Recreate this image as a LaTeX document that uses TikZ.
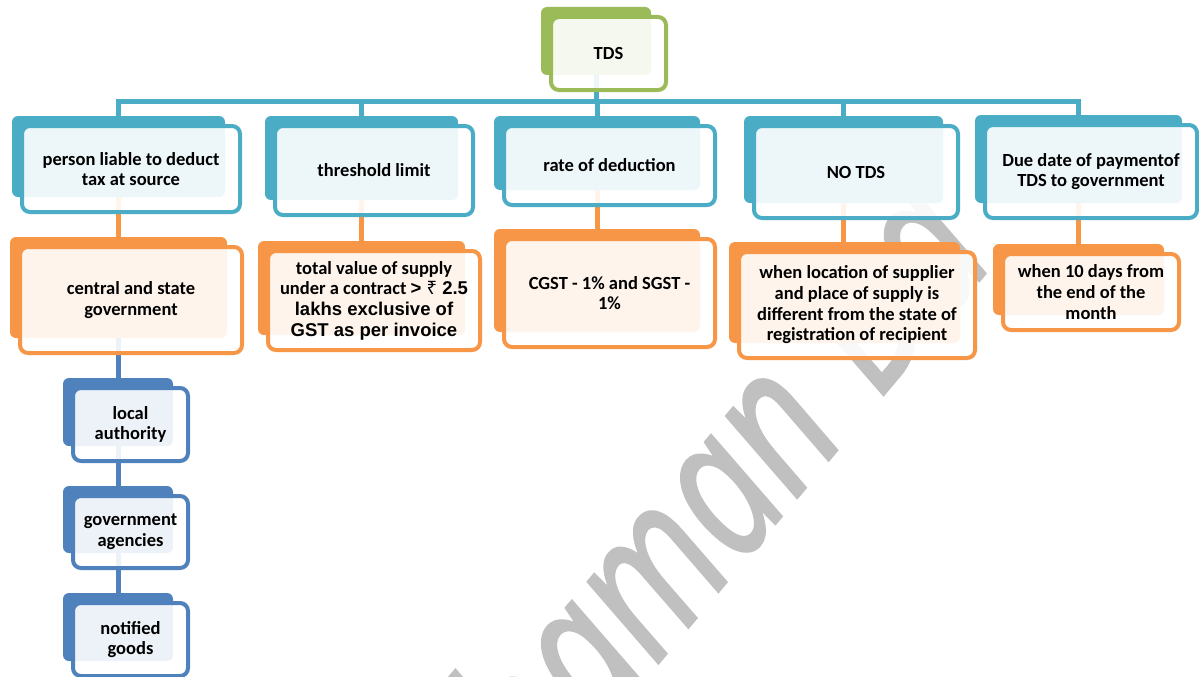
\documentclass[tikz,border=0pt]{standalone}
\usepackage{fontspec}
\setmainfont{Carlito}
\newfontfamily\arialfont{Liberation Sans}
\newfontfamily\rupeefont{Noto Sans}
\newfontfamily\wmfont{Noto Sans}[FakeStretch=0.75,FakeBold=0.8]
\usetikzlibrary{calc}

\definecolor{tealc}{HTML}{4BACC6}
\definecolor{orangec}{HTML}{F79646}
\definecolor{bluec}{HTML}{4F81BD}
\definecolor{greenc}{HTML}{9BBB59}
\definecolor{markc}{HTML}{C0C0C0}

\tikzset{
  backshape/.style={rounded corners=6pt, inner sep=0pt, outer sep=0pt, draw=none},
  frontstyle/.style={rounded corners=8pt, line width=4pt, fill=white, fill opacity=0.9,
    text opacity=1, inner sep=0pt, outer sep=0pt, align=center,
    font=\bfseries\fontsize{18.5}{20.7}\selectfont},
  link/.style={line width=5pt},
  markstyle/.style={text=markc, inner sep=0pt, font=\wmfont\itshape\fontsize{200}{200}\selectfont},
}

% filled tab behind a box: name, colour, top-left x,y, bottom-right x,y (pixels, y downwards)
\newcommand\backbox[6]{%
  \pgfmathsetmacro\bw{#5-#3}%
  \pgfmathsetmacro\bh{#6-#4}%
  \node[backshape, fill=#2, minimum width=\bw pt, minimum height=\bh pt,
        anchor=north west] (#1-bk) at (#3,#4) {};%
}
% outlined box in front of its tab: name, colour, text
\newcommand\putfront[3]{%
  \path let \p1=($(#1-bk.north east)-(#1-bk.south west)$) in
    node[frontstyle, draw=#2, minimum width={\x1+5pt}, minimum height={\y1+5pt}]
      (#1) at ($(#1-bk.center)+(12.5,12.5)$) {#3};%
}

\begin{document}
\begin{tikzpicture}[x=1pt,y=-1pt]
\useasboundingbox (0,0) rectangle (1199,677);
\fill[white] (0,0) rectangle (1199,677);

% watermark
\node[markstyle, rotate=50, anchor=base west] (mark) at (545,799) {haman\hspace{45pt}Da};

% tabs
\backbox{tds}{greenc}{541}{7}{651}{75}
\backbox{la}{tealc}{12}{116}{225}{197}
\backbox{lb}{tealc}{265}{116}{458}{200}
\backbox{lc}{tealc}{494}{116}{700}{190}
\backbox{ld}{tealc}{744}{116}{943}{203}
\backbox{le}{tealc}{975}{115}{1182}{203}
\backbox{ma}{orangec}{10}{237}{227}{338}
\backbox{mb}{orangec}{258}{241}{465}{335}
\backbox{mc}{orangec}{494}{229}{700}{332}
\backbox{md}{orangec}{729}{242}{960}{343}
\backbox{me}{orangec}{993}{244}{1164}{315}
\backbox{na}{bluec}{63}{378}{173}{446}
\backbox{nb}{bluec}{63}{486}{173}{553}
\backbox{nc}{bluec}{63}{593}{173}{661}

% connectors
\foreach \c in {la,lb,lc,ld,le}
  \draw[link, tealc] (tds-bk.south) -- ++(0,26) -| (\c-bk.north);
\foreach \u/\l in {la/ma,lb/mb,lc/mc,ld/md,le/me}
  \draw[link, orangec] (\u-bk.south) -- (\u-bk.south |- \l-bk.north);
\foreach \u/\l in {ma/na,na/nb,nb/nc}
  \draw[link, bluec] (\u-bk.south) -- (\u-bk.south |- \l-bk.north);

% boxes
\putfront{tds}{greenc}{TDS}
\putfront{la}{tealc}{person liable to deduct\\tax at source}
\putfront{lb}{tealc}{threshold limit}
\putfront{lc}{tealc}{rate of deduction}
\putfront{ld}{tealc}{NO TDS}
\putfront{le}{tealc}{Due date of paymentof\\TDS to government}
\putfront{ma}{orangec}{central and state\\government}
\putfront{mb}{orangec}{total value of supply\\under a contract {\arialfont> {\rupeefont ₹} 2.5}\\{\arialfont lakhs exclusive of}\\{\arialfont GST as per invoice}}
\putfront{mc}{orangec}{CGST - 1\% and SGST -\\1\%}
\putfront{md}{orangec}{when location of supplier\\and place of supply is\\different from the state of\\registration of recipient}
\putfront{me}{orangec}{when 10 days from\\the end of the\\month}
\putfront{na}{bluec}{local\\authority}
\putfront{nb}{bluec}{government\\agencies}
\putfront{nc}{bluec}{notified\\goods}
\end{tikzpicture}
\end{document}
